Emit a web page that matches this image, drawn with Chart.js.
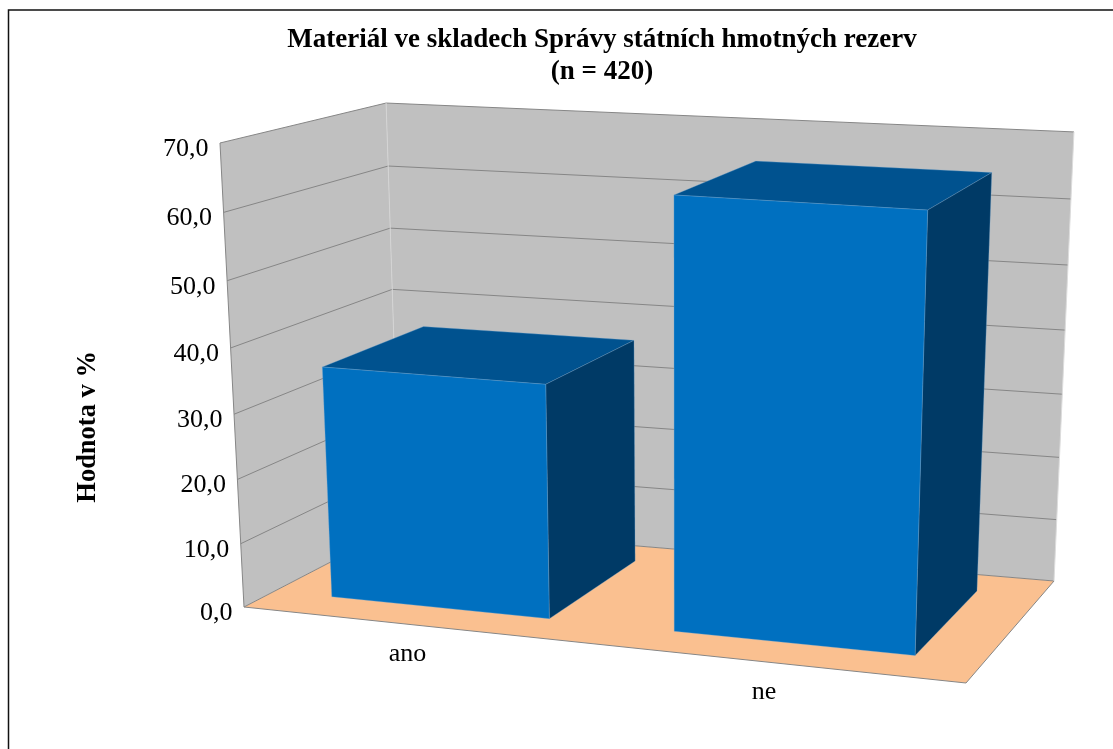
<!DOCTYPE html>
<html>
<head>
<meta charset="utf-8">
<title>Materiál ve skladech</title>
<script src="https://cdn.jsdelivr.net/npm/chart.js@4"></script>
<style>
  html, body { margin: 0; padding: 0; background: #fff; overflow: hidden; }
  #wrap { width: 1113px; height: 749px; }
</style>
</head>
<body>
<div id="wrap"><canvas id="chart"></canvas></div>
<script>
const categories = ["ano", "ne"];
const values = [36, 64.8];
const axisMax = 70;
const axisStep = 10;

// frame of the 3D box on screen: floor corners front-left, front-right, back-right, back-left
const floorQuad = [[244, 607], [966, 683], [1054, 581], [400, 526]];
// uprights converge on this point far below the page
const vanish = [679, 9015];
const rise = -0.0523;
const riseU = -0.0675;
const riseW = 0.102;
const barDepth = [0.18, 0.83];
const bowU = 0.045;

// unit square -> quad (projective)
function makeHomography(q) {
  const [[x0, y0], [x1, y1], [x2, y2], [x3, y3]] = q;
  const dx1 = x1 - x2, dx2 = x3 - x2, sx = x0 - x1 + x2 - x3;
  const dy1 = y1 - y2, dy2 = y3 - y2, sy = y0 - y1 + y2 - y3;
  const den = dx1 * dy2 - dx2 * dy1;
  const g = (sx * dy2 - dx2 * sy) / den;
  const h = (dx1 * sy - sx * dy1) / den;
  const a = x1 - x0 + g * x1, b = x3 - x0 + h * x3;
  const d = y1 - y0 + g * y1, e = y3 - y0 + h * y3;
  return (u, w) => {
    const k = g * u + h * w + 1;
    return [(a * u + b * w + x0) / k, (d * u + e * w + y0) / k];
  };
}
const floorMap = makeHomography(floorQuad);

// u: across, t: up (0..1), w: into the screen
function project(u, t, w) {
  const p = floorMap(u + bowU * u * (1 - u), w);
  const s = (t * rise) / (1 + riseU * u + riseW * w + t * rise);
  return [p[0] + (vanish[0] - p[0]) * s, p[1] + (vanish[1] - p[1]) * s];
}

function fillPoly(ctx, pts, fill, stroke) {
  ctx.beginPath();
  pts.forEach((p, i) => (i ? ctx.lineTo(p[0], p[1]) : ctx.moveTo(p[0], p[1])));
  ctx.closePath();
  ctx.fillStyle = fill;
  ctx.fill();
  if (stroke) {
    ctx.strokeStyle = stroke;
    ctx.lineWidth = 0.6;
    ctx.stroke();
  }
}

function line(ctx, a, b, color, width) {
  ctx.beginPath();
  ctx.moveTo(a[0], a[1]);
  ctx.lineTo(b[0], b[1]);
  ctx.strokeStyle = color;
  ctx.lineWidth = width;
  ctx.stroke();
}

const box3d = {
  id: "box3d",
  beforeDatasetsDraw(chart) {
    const ctx = chart.ctx;
    const y = chart.scales.y;
    const area = chart.chartArea;
    ctx.save();
    // outer frame runs off the page on the right and bottom
    ctx.strokeStyle = "#111";
    ctx.lineWidth = 1.5;
    ctx.strokeRect(8.5, 10, 1300, 1000);

    fillPoly(ctx, [project(0, 0, 0), project(0, 1, 0), project(0, 1, 1), project(0, 0, 1)], "#c0c0c0");
    fillPoly(ctx, [project(0, 0, 1), project(0, 1, 1), project(1, 1, 1), project(1, 0, 1)], "#c0c0c0");
    fillPoly(ctx, [project(0, 0, 0), project(1, 0, 0), project(1, 0, 1), project(0, 0, 1)], "#fac090");

    y.ticks.forEach((tick) => {
      const t = (area.bottom - y.getPixelForValue(tick.value)) / (area.bottom - area.top);
      line(ctx, project(0, t, 0), project(0, t, 1), "#868686", 1);
      line(ctx, project(0, t, 1), project(1, t, 1), "#868686", 1);
    });
    line(ctx, project(0, 0, 0), project(0, 1, 0), "#868686", 1);
    line(ctx, project(0, 0, 1), project(0, 1, 1), "#d4d4d4", 1);
    line(ctx, project(1, 0, 1), project(1, 1, 1), "#dcdcdc", 1);
    line(ctx, project(0, 0, 0), project(1, 0, 0), "#868686", 1);
    line(ctx, project(1, 0, 0), project(1, 0, 1), "#868686", 1);
    ctx.restore();
  },
  beforeDatasetDraw(chart, args) {
    const ctx = chart.ctx;
    const area = chart.chartArea;
    const W = area.right - area.left, H = area.bottom - area.top;
    const [w0, w1] = barDepth;
    ctx.save();
    chart.getDatasetMeta(args.index).data.forEach((bar) => {
      const { x, y, width } = bar.getProps(["x", "y", "width"], true);
      const u0 = (x - width / 2 - area.left) / W;
      const u1 = (x + width / 2 - area.left) / W;
      const t = (area.bottom - y) / H;
      const edge = "rgba(120,170,210,0.55)";
      fillPoly(ctx, [project(u0, t, w0), project(u1, t, w0), project(u1, t, w1), project(u0, t, w1)], "#00528f", edge);
      fillPoly(ctx, [project(u1, 0, w0), project(u1, t, w0), project(u1, t, w1), project(u1, 0, w1)], "#003a66", edge);
      fillPoly(ctx, [project(u0, 0, w0), project(u1, 0, w0), project(u1, t, w0), project(u0, t, w0)], bar.options.backgroundColor, edge);
    });
    ctx.restore();
    return false;
  },
  afterDraw(chart) {
    const ctx = chart.ctx;
    const y = chart.scales.y;
    const xs = chart.scales.x;
    const area = chart.chartArea;
    ctx.save();
    ctx.fillStyle = "#000";
    ctx.font = '26px "Liberation Serif"';
    ctx.textBaseline = "middle";
    ctx.textAlign = "right";
    y.ticks.forEach((tick) => {
      const t = (area.bottom - y.getPixelForValue(tick.value)) / (area.bottom - area.top);
      const p = project(0, t, 0);
      ctx.fillText(tick.label, p[0] - 11.5, p[1] + 6);
    });
    ctx.textAlign = "center";
    categories.forEach((name, i) => {
      const u = (xs.getPixelForValue(i) - area.left) / (area.right - area.left);
      const p = project(u, 0, 0);
      ctx.fillText(name, p[0] - 3 - i * 4, p[1] + 30);
    });
    ctx.restore();
  },
};

new Chart(document.getElementById("chart"), {
  type: "bar",
  data: {
    labels: categories,
    datasets: [{ data: values, backgroundColor: "#0070c0", barPercentage: 0.647, categoryPercentage: 1 }],
  },
  plugins: [box3d],
  options: {
    responsive: true,
    maintainAspectRatio: false,
    animation: false,
    layout: { padding: { left: 72, right: 154, bottom: 138 } },
    plugins: {
      legend: { display: false },
      tooltip: { enabled: false },
      title: {
        display: true,
        fullSize: false,
        text: ["Materiál ve skladech Správy státních hmotných rezerv", "(n = 420)"],
        color: "#000",
        font: { family: '"Liberation Serif"', size: 27, weight: "bold", lineHeight: 1.2 },
        padding: { top: 23.5, bottom: 154.5 },
      },
    },
    scales: {
      x: { display: false },
      y: {
        min: 0,
        max: axisMax,
        afterFit: (scale) => { scale.width = 173; },
        ticks: {
          display: false,
          stepSize: axisStep,
          callback: (v) => v.toFixed(1).replace(".", ","),
        },
        grid: { display: false },
        border: { display: false },
        title: {
          display: true,
          text: "Hodnota v %",
          color: "#000",
          font: { family: '"Liberation Serif"', size: 26.5, weight: "bold" },
          padding: 0,
        },
      },
    },
  },
});
</script>
</body>
</html>
